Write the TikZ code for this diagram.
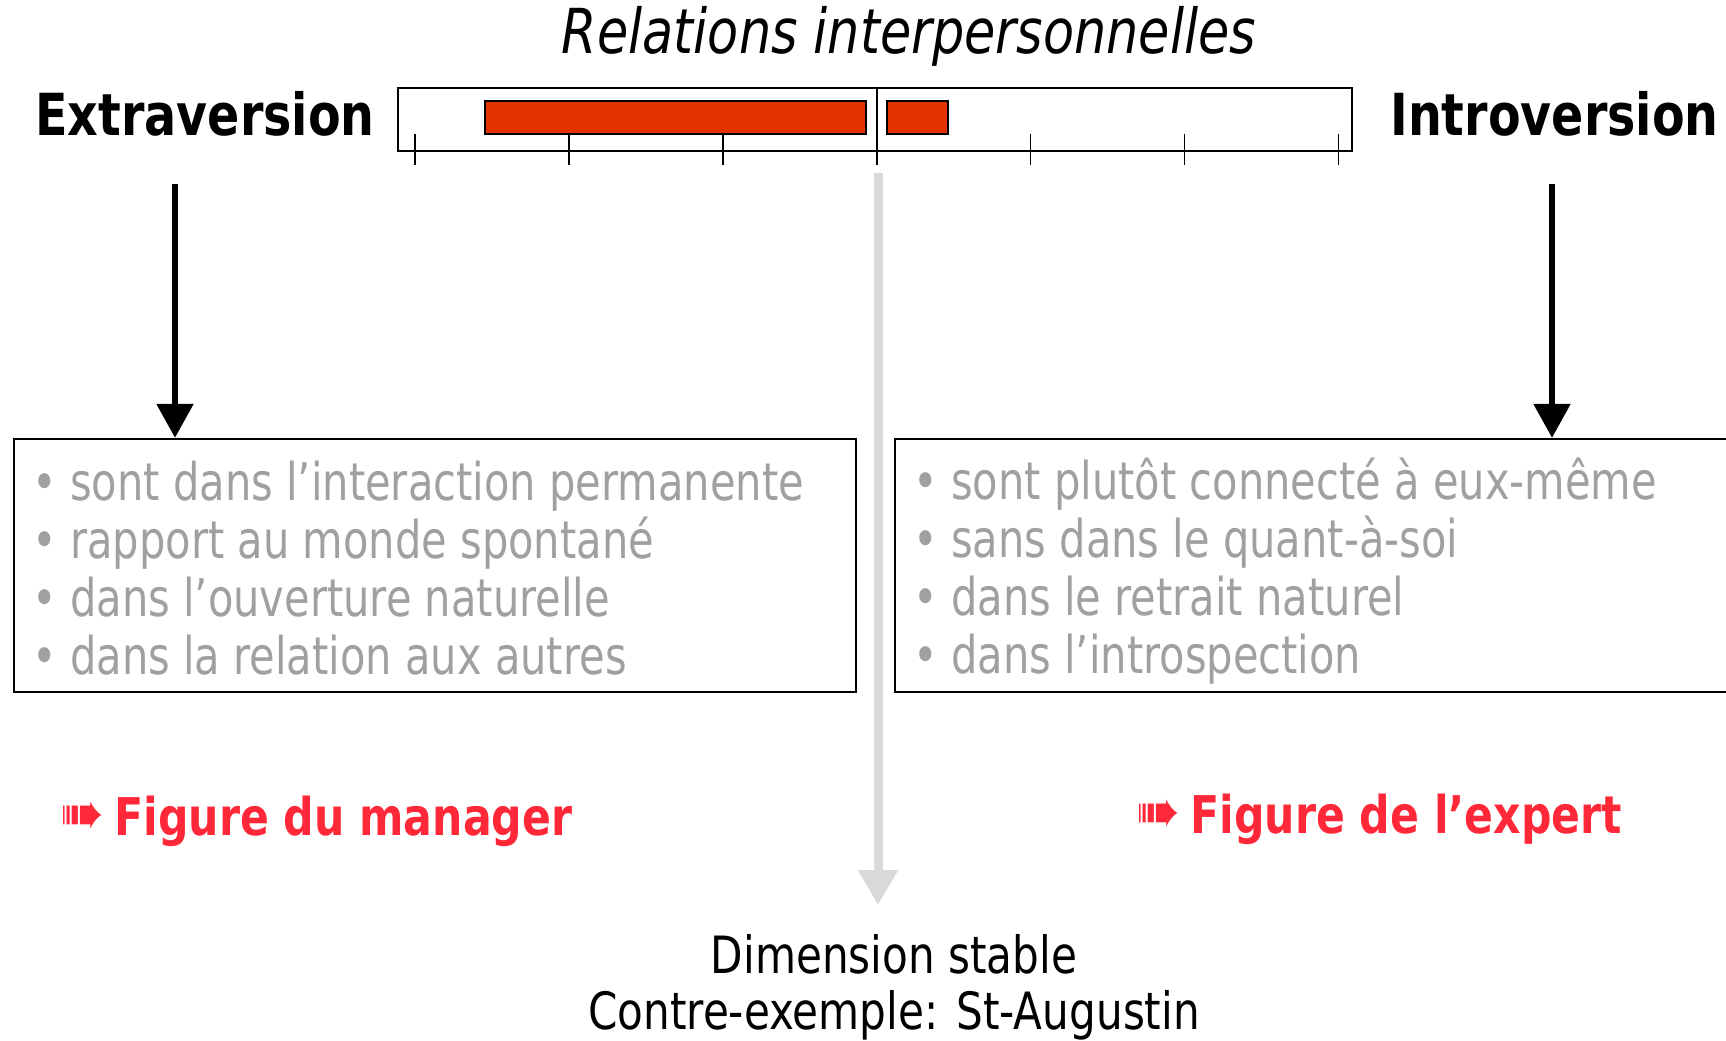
\documentclass[tikz,border=0pt]{standalone}
\usepackage{fontspec}
\setmainfont{DejaVu Sans}[FakeStretch=0.82]
\newfontfamily\listefont{DejaVu Sans}[FakeStretch=0.80]
\usepackage{xcolor}
\usetikzlibrary{arrows.meta}
\definecolor{barred}{RGB}{227,51,0}
\definecolor{figred}{RGB}{255,40,56}
\definecolor{puce}{RGB}{160,160,160}
\definecolor{flgris}{RGB}{217,217,217}

\begin{document}
\begin{tikzpicture}[x=0.5pt, y=-0.5pt,
    pole/.style={font=\fontsize{29}{34}\selectfont\bfseries, inner sep=0},
    liste/.style={font=\listefont\fontsize{26}{29}\selectfont, text=puce, align=left, inner sep=0},
    cadre/.style={draw, line width=1.2pt, minimum height=126.5pt, inner sep=0},
    figure/.style={font=\fontsize{26}{30}\selectfont\bfseries, text=figred, inner sep=0},
    fleche/.style={line width=2.75pt, -{Triangle[length=17pt, width=18pt]}},
    flechegris/.style={flgris, line width=4.5pt, -{Triangle[length=17.5pt, width=19pt]}},
    bar/.style={fill=barred, draw=black, line width=0.8pt}]
\useasboundingbox (0,0) rectangle (1726,1040);

\node[font=\fontsize{31}{36}\selectfont\itshape, inner sep=0] (titre) at (909,36) {Relations interpersonnelles};
\node[pole, anchor=west] (extra) at (35,114) {Extraversion};
\node[pole, anchor=east] (intro) at (1719,114) {Introversion};

\draw[line width=0.8pt] (398,88) rectangle (1352,151);
\foreach \i in {0,...,6}
  \draw[line width=0.8pt] (415+153.9*\i,134) -- (415+153.9*\i,165);
\draw[line width=0.8pt] (876.7,88) -- (876.7,165);
\filldraw[bar] (485,101) rectangle (866,134);
\filldraw[bar] (887,101) rectangle (948,134);

\node[cadre, minimum width=421pt] (boxE) at (435,565.5) {};
\node[cadre, minimum width=422.5pt] (boxI) at (1317.5,565.5) {};
\node[liste, anchor=west] (lstE) at (32,568) {• sont dans l’interaction permanente\\• rapport au monde spontané\\• dans l’ouverture naturelle\\• dans la relation aux autres};
\node[liste, anchor=west] (lstI) at (913,571) {• sont plutôt connecté à eux-même\\• sans dans le quant-à-soi\\• dans le retrait naturel\\• dans l’introspection};

\coordinate (e0) at (175,184);
\coordinate (i0) at (1552,184);
\draw[fleche] (e0) -- (e0 |- boxE.north);
\draw[fleche] (i0) -- (i0 |- boxI.north);

\coordinate (g0) at (878,173);
\coordinate (g1) at (878,905);
\draw[flechegris] (g0) -- (g1);

\node[figure, anchor=west] (manager) at (60,821) {{\fontsize{32}{30}\selectfont ➠}\hspace{5pt}Figure du manager};
\node[figure, anchor=west] (expert) at (1136,819) {{\fontsize{32}{30}\selectfont ➠}\hspace{5pt}Figure de l’expert};

\node[font=\fontsize{25.7}{28}\selectfont, align=center, inner sep=0] (stable) at (894,987) {Dimension stable\\Contre-exemple: St-Augustin};
\end{tikzpicture}
\end{document}
